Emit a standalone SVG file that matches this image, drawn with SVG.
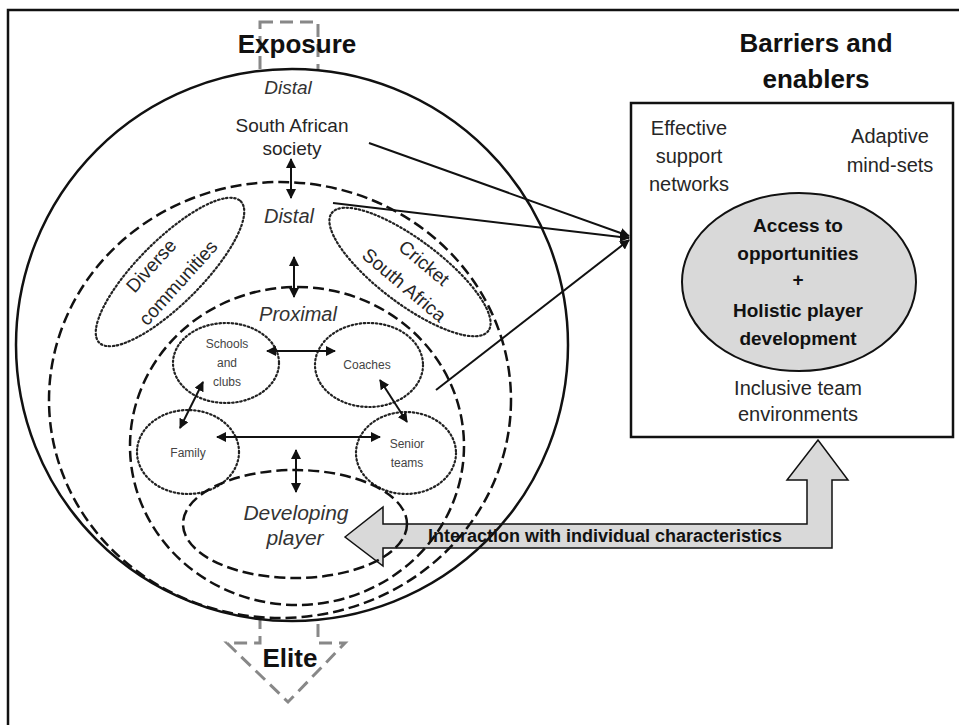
<svg xmlns="http://www.w3.org/2000/svg" width="959" height="725" viewBox="0 0 959 725">
<style>
.t{font-family:"Liberation Sans",Arial,sans-serif;fill:#262626;text-anchor:middle}
.b{font-weight:bold;fill:#111}
.i{font-style:italic;fill:#333}
.s{font-size:12px;fill:#444}
.dash{fill:none;stroke:#111;stroke-width:2.5;stroke-dasharray:11 5}
.dot{fill:none;stroke:#222;stroke-width:2.2;stroke-dasharray:1.5 2.6;stroke-linecap:round}
.con{fill:none;stroke:#111;stroke-width:2}
</style>
<defs>
<marker id="ah" viewBox="0 0 10 10" refX="9" refY="5" markerWidth="5" markerHeight="5" orient="auto-start-reverse" markerUnits="strokeWidth">
<path d="M0,0 L10,5 L0,10 z" fill="#111"/>
</marker>
</defs>
<rect width="959" height="725" fill="#fff"/>
<rect x="8" y="10" width="1000" height="800" fill="none" stroke="#111" stroke-width="2.5"/>

<g id="exposure-elite-arrow">
<path d="M260,22 L318,22 L318,643 L345,643 L288,702 L227,643 L260,643 Z" fill="none" stroke="#888" stroke-width="3" stroke-dasharray="13 7"/>
</g>

<g id="exposure-circle">
<circle cx="292" cy="345" r="276" fill="#fff" stroke="none"/>
</g>

<g id="interaction-arrow">
<path d="M345,537 L383,507 L383,524 L807,524 L807,480 L787,480 L818,440 L848,480 L832,480 L832,548 L383,548 L383,566 Z" fill="#d9d9d9" stroke="#111" stroke-width="1.5"/>
<text class="t b" x="605" y="542" font-size="18">Interaction with individual characteristics</text>
</g>

<g id="outer-ring">
<circle cx="292" cy="345" r="276" fill="none" stroke="#111" stroke-width="2.5"/>
</g>
<g id="distal-ring">
<ellipse class="dash" cx="280" cy="400" rx="231" ry="218"/>
</g>
<g id="diverse-communities">
<ellipse class="dot" cx="170" cy="272" rx="100" ry="32" transform="rotate(-45 170 272)"/>
<text class="t" font-size="19" transform="translate(156,270) rotate(-48)">Diverse</text>
<text class="t" font-size="19" transform="translate(183,287) rotate(-48)">communities</text>
</g>
<g id="cricket-sa">
<ellipse class="dot" cx="410" cy="272" rx="98" ry="32" transform="rotate(37 410 272)"/>
<text class="t" font-size="19" transform="translate(420,268) rotate(40)">Cricket</text>
<text class="t" font-size="19" transform="translate(400,290) rotate(40)">South Africa</text>
</g>
<g id="proximal-ring">
<ellipse class="dash" cx="297" cy="446" rx="167" ry="159"/>
</g>
<g id="schools">
<ellipse class="dot" cx="226" cy="363" rx="53" ry="40"/>
<text class="t s" x="227" y="348">Schools</text>
<text class="t s" x="227" y="367">and</text>
<text class="t s" x="227" y="386">clubs</text>
</g>
<g id="coaches">
<ellipse class="dot" cx="369" cy="365" rx="54" ry="42"/>
<text class="t s" x="367" y="369">Coaches</text>
</g>
<g id="family">
<ellipse class="dot" cx="188" cy="452" rx="51" ry="42"/>
<text class="t s" x="188" y="457">Family</text>
</g>
<g id="senior-teams">
<ellipse class="dot" cx="406" cy="453" rx="50" ry="41"/>
<text class="t s" x="407" y="448">Senior</text>
<text class="t s" x="407" y="467">teams</text>
</g>
<g id="developing-player">
<ellipse class="dash" cx="295" cy="524" rx="112" ry="54"/>
<text class="t i" x="296" y="520" font-size="21">Developing</text>
<text class="t i" x="295" y="545" font-size="21">player</text>
</g>

<g id="labels">
<text class="t b" x="297" y="53" font-size="26">Exposure</text>
<text class="t b" x="290" y="667" font-size="26">Elite</text>
<text class="t i" x="288" y="94" font-size="19">Distal</text>
<text class="t" x="292" y="132" font-size="19">South African</text>
<text class="t" x="292" y="155" font-size="19">society</text>
<text class="t i" x="289" y="223" font-size="20">Distal</text>
<text class="t i" x="298" y="321" font-size="20">Proximal</text>
</g>

<g id="barriers-box">
<text class="t b" x="816" y="52" font-size="26">Barriers and</text>
<text class="t b" x="816" y="88" font-size="26">enablers</text>
<rect x="631" y="103" width="322" height="334" fill="#fff" stroke="#111" stroke-width="2.5"/>
<text class="t" x="689" y="135" font-size="20">Effective</text>
<text class="t" x="689" y="163" font-size="20">support</text>
<text class="t" x="689" y="191" font-size="20">networks</text>
<text class="t" x="890" y="143" font-size="20">Adaptive</text>
<text class="t" x="890" y="172" font-size="20">mind-sets</text>
<text class="t" x="798" y="395" font-size="20">Inclusive team</text>
<text class="t" x="798" y="421" font-size="20">environments</text>
</g>
<g id="core">
<ellipse cx="799" cy="282" rx="117" ry="89" fill="#d9d9d9" stroke="#111" stroke-width="2"/>
<text class="t b" x="798" y="232" font-size="19">Access to</text>
<text class="t b" x="798" y="260" font-size="19">opportunities</text>
<text class="t b" x="798" y="286" font-size="19">+</text>
<text class="t b" x="798" y="317" font-size="19">Holistic player</text>
<text class="t b" x="798" y="345" font-size="19">development</text>
</g>

<g id="connectors">
<line class="con" x1="291" y1="159" x2="291" y2="198" marker-start="url(#ah)" marker-end="url(#ah)"/>
<line class="con" x1="294" y1="257" x2="294" y2="297" marker-start="url(#ah)" marker-end="url(#ah)"/>
<line class="con" x1="296" y1="450" x2="296" y2="492" marker-start="url(#ah)" marker-end="url(#ah)"/>
<line class="con" x1="267" y1="351" x2="335" y2="351" marker-start="url(#ah)" marker-end="url(#ah)"/>
<line class="con" x1="203" y1="382" x2="180" y2="428" marker-start="url(#ah)" marker-end="url(#ah)"/>
<line class="con" x1="380" y1="380" x2="407" y2="422" marker-start="url(#ah)" marker-end="url(#ah)"/>
<line class="con" x1="217" y1="437" x2="380" y2="437" marker-start="url(#ah)" marker-end="url(#ah)"/>
<line class="con" x1="369" y1="143" x2="629" y2="236" marker-end="url(#ah)"/>
<line class="con" x1="333" y1="203" x2="629" y2="238" marker-end="url(#ah)"/>
<line class="con" x1="436" y1="390" x2="629" y2="240" marker-end="url(#ah)"/>
</g>
</svg>
